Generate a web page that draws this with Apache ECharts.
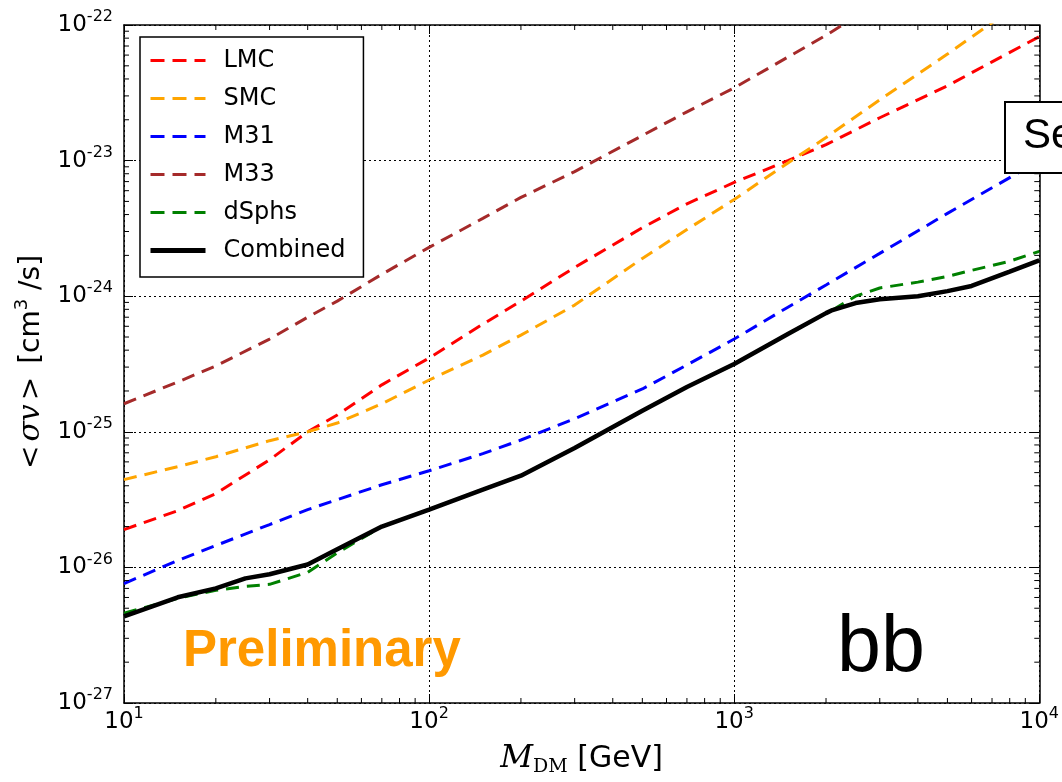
<!DOCTYPE html>
<html><head><meta charset="utf-8">
<script src="https://cdn.jsdelivr.net/npm/echarts@6/dist/echarts.min.js"></script>
<style>html,body{margin:0;padding:0;background:#fff}#c{width:1062px;height:782px}</style>
</head><body><div id="c"></div><script>
// ---- data, <σv> in cm^3/s ----
const massGrid = [10,15,20,30,40,50,70,100,150,200,300,500,700,1000,1500,2000,3000,5000,7000,10000];
const lmcVals = [1.90e-26,2.62e-26,3.50e-26,6.22e-26,1.0e-25,1.33e-25,2.22e-25,3.50e-25,6.22e-25,9.2e-25,1.63e-24,3.2e-24,4.8e-24,6.9e-24,1.0e-23,1.31e-23,2.07e-23,3.56e-23,5.35e-23,8.2e-23];
const smcVals = [4.44e-26,5.53e-26,6.55e-26,8.6e-26,1.0e-25,1.16e-25,1.61e-25,2.41e-25,3.68e-25,5.16e-25,8.6e-25,1.9e-24,3.1e-24,5.17e-24,9.6e-24,1.48e-23,2.81e-23,6.1e-23,1.04e-22,1.75e-22];
const m31Vals = [7.6e-27,1.125e-26,1.45e-26,2.07e-26,2.67e-26,3.16e-26,4.07e-26,5.16e-26,6.9e-26,8.7e-26,1.25e-25,2.07e-25,3.11e-25,4.83e-25,8.3e-25,1.21e-24,2.07e-24,4.08e-24,6.3e-24,1.0e-23];
const m33Mass = [10,15,20,30,40,50,70,100,150,200,300,500,700,1000,1500,2000,3000];
const m33Vals = [1.61e-25,2.33e-25,3.06e-25,4.83e-25,7.0e-25,9.2e-25,1.45e-24,2.29e-24,3.75e-24,5.35e-24,8.3e-24,1.53e-23,2.29e-23,3.44e-23,5.8e-23,8.4e-23,1.48e-22];
const dsMass = [10,15,20,25,30,40,50,70,100,150,200,300,500,700,1000,1500,2000,2100,2500,3000,4000,5000,6000,8000,10000];
const dsVals = [4.59e-27,5.92e-27,6.78e-27,7.25e-27,7.5e-27,9.2e-27,1.28e-26,2.0e-26,2.67e-26,3.75e-26,4.75e-26,7.6e-26,1.43e-25,2.14e-25,3.16e-25,5.26e-25,7.5e-25,7.9e-25,1.0e-24,1.15e-24,1.27e-24,1.40e-24,1.55e-24,1.81e-24,2.14e-24];
const combMass = [10,15,20,25,30,40,50,70,100,150,200,300,500,700,1000,1500,2000,2100,2500,3000,4000,5000,6000,8000,10000];
const combVals = [4.36e-27,6.02e-27,7.01e-27,8.3e-27,8.9e-27,1.05e-26,1.36e-26,2.0e-26,2.67e-26,3.75e-26,4.75e-26,7.6e-26,1.43e-25,2.14e-25,3.16e-25,5.26e-25,7.5e-25,7.9e-25,8.9e-25,9.5e-25,1.0e-24,1.09e-24,1.19e-24,1.52e-24,1.84e-24];
const seriesNames = ['LMC','SMC','M31','M33','dSphs','Combined'];
const xMin = 10, xMax = 10000, yMin = 1e-27, yMax = 1e-22;

// ECharts rounds numbers to 20 decimals, so the y axis works in units of 1e-27 cm^3/s;
// tick labels convert back to the real exponent.
const Y_UNIT_EXP = -27;
const yUnit = Math.pow(10, Y_UNIT_EXP);
const toAxis = v => v / yUnit;
const axMin = Math.round(toAxis(yMin)), axMax = Math.round(toAxis(yMax));

function minors(lo, hi){const out=[];for(let e=Math.round(Math.log10(lo));e<Math.round(Math.log10(hi));e++){for(let k=2;k<=9;k++){out.push(k*Math.pow(10,e));}}return out;}
const xMinor = minors(xMin, xMax);
const yMinor = minors(axMin, axMax);

const zip = (a,b)=>a.map((v,i)=>[v, toAxis(b[i])]);
const FONT = 'DejaVu Sans';
const powRich = {
  b:{fontFamily:FONT,fontSize:23,lineHeight:32,color:'#000'},
  s:{fontFamily:FONT,fontSize:16,lineHeight:14,verticalAlign:'top',color:'#000'}
};
const xFmt = v => '{b|10}{s|' + Math.round(Math.log10(v)) + '}';
const yFmt = v => '{b|10}{s|' + (Math.round(Math.log10(v)) + Y_UNIT_EXP) + '}';
const dashed = [13,8];

function lineSeries(name, xs, ys, color, width, type, z){
  return {name, type:'line', data:zip(xs,ys), symbol:'none', showSymbol:false, smooth:false, clip:true, z,
    lineStyle:{color, width, type}, itemStyle:{color}};
}
const axisCommon = {
  axisLine:{show:true, lineStyle:{color:'#000', width:1.5}},
  axisTick:{show:true, inside:true, length:9, lineStyle:{color:'#000', width:1}}
};

const option = {
  animation:false,
  backgroundColor:'#fff',
  textStyle:{fontFamily:FONT},
  grid:{left:124, right:19, top:25, bottom:77, containLabel:false},
  legend:{
    data:seriesNames.map(n=>({name:n, lineStyle: n==='Combined' ? {width:5} : {width:3, type:[14,8]}})),
    orient:'vertical', left:140, top:37,
    backgroundColor:'#fff', borderColor:'#000', borderWidth:1.5, borderRadius:0,
    padding:[11,18,14,8], itemGap:13, itemWidth:55, itemHeight:14,
    itemStyle:{opacity:0},
    textStyle:{fontFamily:FONT, fontSize:24, color:'#000', lineHeight:25, padding:[0,0,0,13]},
    selectedMode:false, z:50
  },
  xAxis:[
    Object.assign({type:'log', logBase:10, min:xMin, max:xMax, position:'bottom',
     axisLabel:{formatter:xFmt, rich:powRich, margin:3},
     splitLine:{show:true, lineStyle:{color:'#000', type:[2,3], width:1}},
     name:'{i|M}{sub|DM}{t| [GeV]}', nameLocation:'middle', nameGap:38,
     nameTextStyle:{rich:{
       i:{fontFamily:'DejaVu Serif', fontStyle:'italic', fontSize:32, lineHeight:36, color:'#000'},
       sub:{fontFamily:'DejaVu Serif', fontSize:19, lineHeight:16, verticalAlign:'bottom', color:'#000'},
       t:{fontFamily:FONT, fontSize:30, lineHeight:36, color:'#000'}
     }}}, axisCommon),
    Object.assign({type:'log', logBase:10, min:xMin, max:xMax, position:'top',
     axisLabel:{show:false}, splitLine:{show:false}}, axisCommon)
  ],
  yAxis:[
    Object.assign({type:'log', logBase:10, min:axMin, max:axMax, position:'left',
     axisLabel:{formatter:yFmt, rich:powRich, margin:11},
     splitLine:{show:true, lineStyle:{color:'#000', type:[2,3], width:1}},
     name:'{r|<}{i|σv}{r|>}{t| [cm}{s|3}{t| /s]}', nameLocation:'middle', nameGap:72, nameRotate:90,
     nameTextStyle:{rich:{
       r:{fontFamily:'DejaVu Serif', fontSize:28, lineHeight:36, color:'#000', padding:[0,4,0,4]},
       i:{fontFamily:'DejaVu Serif', fontStyle:'italic', fontSize:30, lineHeight:36, color:'#000'},
       t:{fontFamily:FONT, fontSize:28, lineHeight:36, color:'#000'},
       s:{fontFamily:FONT, fontSize:18, lineHeight:16, verticalAlign:'top', color:'#000'}
     }}}, axisCommon),
    Object.assign({type:'log', logBase:10, min:axMin, max:axMax, position:'right',
     axisLabel:{show:false}, splitLine:{show:false}}, axisCommon)
  ],
  series:[
    lineSeries('LMC', massGrid, lmcVals, '#ff0000', 3, dashed, 3),
    lineSeries('SMC', massGrid, smcVals, '#ffa500', 3, dashed, 3),
    lineSeries('M31', massGrid, m31Vals, '#0000ff', 3, dashed, 3),
    lineSeries('M33', m33Mass, m33Vals, '#a52a2a', 3, dashed, 3),
    lineSeries('dSphs', dsMass, dsVals, '#008000', 3, dashed, 4),
    lineSeries('Combined', combMass, combVals, '#000000', 4.5, 'solid', 5),
    {type:'custom', name:'xminor', silent:true, z:6, clip:false, xAxisIndex:0, yAxisIndex:0,
     data:xMinor.map(v=>[v, axMin]),
     renderItem:(p, api)=>{
       const b = api.coord([api.value(0), axMin]);
       const t = api.coord([api.value(0), axMax]);
       const st = {stroke:'#000', lineWidth:1};
       return {type:'group', children:[
         {type:'line', shape:{x1:b[0], y1:b[1], x2:b[0], y2:b[1]-5}, style:st},
         {type:'line', shape:{x1:t[0], y1:t[1], x2:t[0], y2:t[1]+5}, style:st}
       ]};
     }},
    {type:'custom', name:'yminor', silent:true, z:6, clip:false, xAxisIndex:0, yAxisIndex:0,
     data:yMinor.map(v=>[xMin, v]),
     renderItem:(p, api)=>{
       const l = api.coord([xMin, api.value(1)]);
       const r = api.coord([xMax, api.value(1)]);
       const st = {stroke:'#000', lineWidth:1};
       return {type:'group', children:[
         {type:'line', shape:{x1:l[0], y1:l[1], x2:l[0]+5, y2:l[1]}, style:st},
         {type:'line', shape:{x1:r[0], y1:r[1], x2:r[0]-5, y2:r[1]}, style:st}
       ]};
     }}
  ],
  graphic:[
    {type:'text', left:183, top:626, z:100, silent:true,
     style:{text:'Preliminary', fill:'#ff9900', font:'bold 51px "Liberation Sans", Arial, sans-serif'}},
    {type:'text', left:837, top:610, z:100, silent:true,
     style:{text:'bb', fill:'#000', font:'79px "Liberation Sans", Arial, sans-serif'}},
    {type:'rect', left:1004, top:101, z:100, silent:true,
     shape:{width:80, height:71}, style:{fill:'#fff', stroke:'#000', lineWidth:2}},
    {type:'text', left:1023, top:115, z:101, silent:true,
     style:{text:'Se', fill:'#000', font:'42px "Liberation Sans", Arial, sans-serif'}}
  ]
};
const chart = echarts.init(document.getElementById('c'), null, {renderer:'canvas'});
chart.setOption(option);
</script></body></html>
